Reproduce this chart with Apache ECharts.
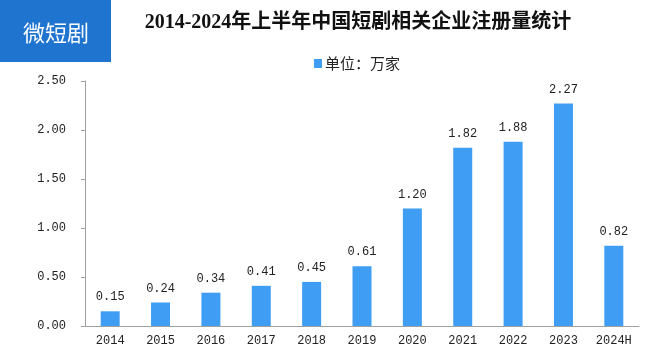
<!DOCTYPE html>
<html>
<head>
<meta charset="utf-8">
<script src="https://cdn.jsdelivr.net/npm/echarts@6/dist/echarts.min.js"></script>
<style>html,body{margin:0;padding:0;background:#fff}#c{width:670px;height:360px}</style>
</head>
<body>
<div id="c"></div>
<script>
var categories = ['2014','2015','2016','2017','2018','2019','2020','2021','2022','2023','2024H'];
var values = [0.15,0.24,0.34,0.41,0.45,0.61,1.20,1.82,1.88,2.27,0.82];
var yTicks = [0, 0.5, 1, 1.5, 2, 2.5];
var seriesName = '单位：万家';
var titleText = '2014-2024年上半年中国短剧相关企业注册量统计';
var badgeText = '微短剧';

var mono = "'Liberation Mono','DejaVu Sans Mono','Noto Sans CJK SC',monospace";
var chart = echarts.init(document.getElementById('c'), null, {renderer:'canvas'});
chart.setOption({
  animation: false,
  backgroundColor: '#fff',
  title: {
    text: titleText,
    left: 353, top: 8, textAlign: 'center',
    textStyle: {fontSize: 20, fontWeight: 'bold', color: '#111', fontFamily: "'Liberation Serif','Noto Sans CJK SC',serif"}
  },
  graphic: [
    {type:'rect', left:0, top:0, shape:{x:0,y:0,width:111,height:62}, style:{fill:'#1F74D0'}, z:10},
    {type:'text', x:56, y:33, style:{text: badgeText, fill:'#fff', font:"22px 'Noto Sans CJK SC'", textAlign:'center', textVerticalAlign:'middle'}, z:11}
  ],
  legend: {
    left: 309, top: 51, itemWidth: 8, itemHeight: 9, icon: 'rect',
    textStyle: {fontSize: 15, color: '#222', fontFamily: "'Noto Sans CJK SC'", padding:[0,0,0,-2]},
    data: [seriesName]
  },
  grid: {left: 85, right: 31, top: 81, bottom: 34, containLabel: false},
  xAxis: {
    type: 'category', data: categories,
    axisLine: {lineStyle: {color: '#A0A0A0'}},
    axisTick: {length: 5, lineStyle: {color: '#A0A0A0'}},
    axisLabel: {color: '#222', fontSize: 12, fontFamily: mono, margin: 9}
  },
  yAxis: {
    type: 'value', min: yTicks[0], max: yTicks[yTicks.length-1], interval: 0.5,
    axisLine: {show: true, lineStyle: {color: '#A0A0A0'}},
    axisTick: {show: true, length: 4, lineStyle: {color: '#A0A0A0'}},
    splitLine: {show: false},
    axisLabel: {color: '#222', fontSize: 12, fontFamily: mono, margin: 19, formatter: function(v){return v.toFixed(2);}}
  },
  series: [{
    name: seriesName, type: 'bar', data: values, barWidth: 19,
    itemStyle: {color: '#3F9EF3'},
    label: {show: true, position: 'top', distance: 8, color: '#222', fontSize: 12, fontFamily: mono,
      formatter: function(p){return p.value.toFixed(2);}}
  }]
});
</script>
</body>
</html>
